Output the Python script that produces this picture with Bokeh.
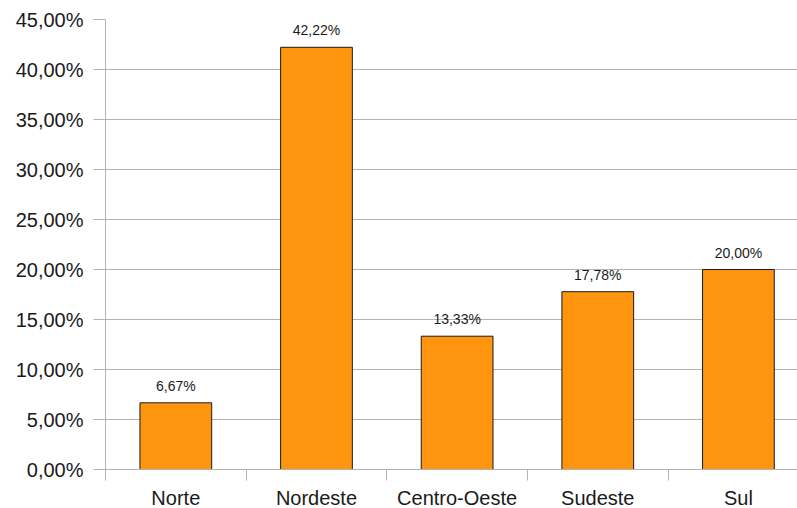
from bokeh.plotting import figure
from bokeh.models import Range1d, FixedTicker, CustomJSTickFormatter, ColumnDataSource
from bokeh.core.properties import value
from bokeh.embed import file_html
from bokeh.resources import INLINE

# Share of records per Brazilian region (%)
regions = ["Norte", "Nordeste", "Centro-Oeste", "Sudeste", "Sul"]
shares = [6.67, 42.22, 13.33, 17.78, 20.00]
y_ticks = [0, 5, 10, 15, 20, 25, 30, 35, 40, 45]

FONT = "Liberation Sans"
GRID = "#b3b3b3"
BAR = "#ff950e"

xs = list(range(len(regions)))
labels = [f"{v:.2f}".replace(".", ",") + "%" for v in shares]
src = ColumnDataSource(dict(x=xs, top=shares, label=labels))

p = figure(frame_width=692, frame_height=450, output_backend="svg", toolbar_location=None,
           x_range=Range1d(-0.5, 4.42), y_range=Range1d(0, 45),
           min_border_left=105, min_border_top=19, min_border_bottom=0,
           min_border_right=0)
p.outline_line_color = None
p.background_fill_color = "white"
p.border_fill_color = "white"

p.vbar(x="x", top="top", width=0.51, bottom=0, source=src,
       fill_color=BAR, line_color="#1a1a1a", line_width=1)

p.text(x="x", y="top", text="label", source=src, text_align="center",
       text_baseline="bottom", y_offset=-9, text_font=value(FONT),
       text_font_size="14px", text_color="#1a1a1a")

# y axis
p.yaxis.ticker = FixedTicker(ticks=y_ticks)
p.yaxis.formatter = CustomJSTickFormatter(
    code="return tick.toFixed(2).replace('.', ',') + '%';")
p.yaxis.axis_line_color = GRID
p.yaxis.major_tick_line_color = GRID
p.yaxis.major_tick_out = 12
p.yaxis.major_tick_in = 0
p.yaxis.minor_tick_line_color = None
p.yaxis.major_label_standoff = 10
p.yaxis.major_label_text_font = FONT
p.yaxis.major_label_text_font_size = "20px"
p.yaxis.major_label_text_color = "#1a1a1a"

# x axis: labels at bar centres, tick marks at category boundaries
p.xaxis.ticker = FixedTicker(ticks=xs,
                             minor_ticks=[i - 0.5 for i in range(len(regions) + 1)])
p.xaxis.major_label_overrides = {i: r for i, r in enumerate(regions)}
p.xaxis.axis_line_color = GRID
p.xaxis.major_tick_line_color = None
p.xaxis.major_tick_out = 0
p.xaxis.major_tick_in = 0
p.xaxis.minor_tick_line_color = GRID
p.xaxis.minor_tick_out = 11
p.xaxis.minor_tick_in = 0
p.xaxis.major_label_standoff = 6
p.xaxis.major_label_text_font = FONT
p.xaxis.major_label_text_font_size = "20px"
p.xaxis.major_label_text_color = "#1a1a1a"

p.xgrid.grid_line_color = None
p.ygrid.ticker = FixedTicker(ticks=y_ticks)
p.ygrid.grid_line_color = GRID
p.ygrid.grid_line_width = 1

open("out.html", "w").write(file_html(p, INLINE))
